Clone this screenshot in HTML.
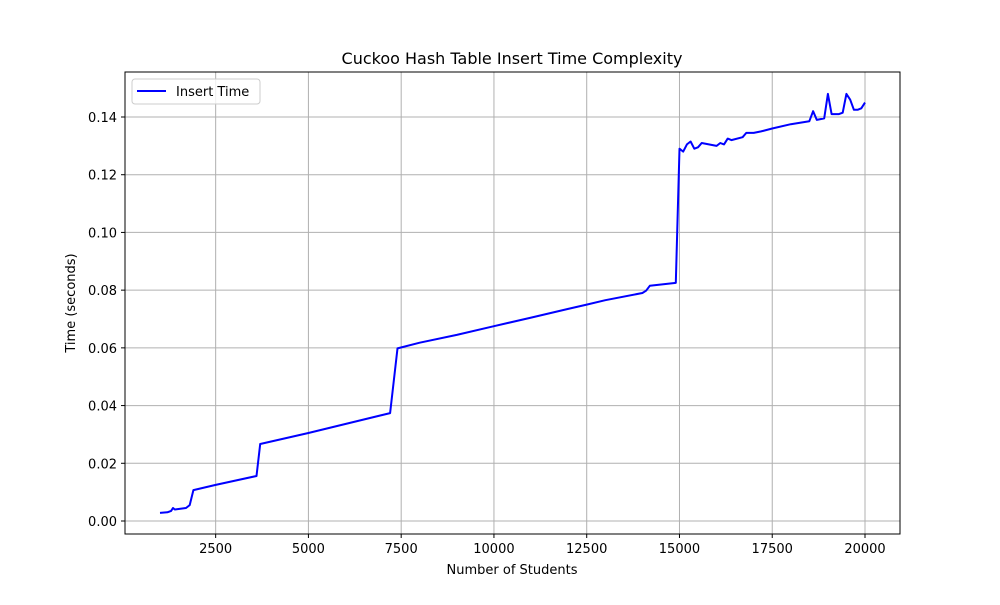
<!DOCTYPE html>
<html><head><meta charset="utf-8"><style>
body{margin:0;background:#fff;font-family:"Liberation Sans","DejaVu Sans",sans-serif;}
svg text{font-family:"DejaVu Sans","Liberation Sans",sans-serif;}
</style></head><body>
<svg id="chart" width="1000" height="600" xmlns="http://www.w3.org/2000/svg">
<rect width="1000" height="600" fill="#fff"/>
<g id="grid"></g><g id="ticks"></g><g id="series"></g>
<rect x="125" y="72" width="775" height="462" fill="none" stroke="#000" stroke-width="1"/>
<text x="512" y="64" font-size="16" text-anchor="middle">Cuckoo Hash Table Insert Time Complexity</text>
<text x="512" y="574" font-size="13" text-anchor="middle">Number of Students</text>
<text transform="translate(75,303) rotate(-90)" font-size="13" text-anchor="middle">Time (seconds)</text>
<g>
<rect x="132" y="79" width="128" height="25" rx="3" fill="#fff" fill-opacity="0.8" stroke="#ccc"/>
<line x1="137" y1="91" x2="166" y2="91" stroke="#0000ff" stroke-width="2"/>
<text x="176" y="96" font-size="13">Insert Time</text>
</g>
</svg>
<script>
const xs=[1000,1200,1300,1350,1400,1700,1800,1900,2500,3600,3700,5000,7200,7400,8000,9000,10000,11000,12000,12500,13000,14000,14100,14200,14900,15000,15100,15200,15300,15400,15500,15600,16000,16100,16200,16300,16400,16700,16800,17000,17200,17500,18000,18500,18600,18700,18900,19000,19100,19300,19400,19500,19600,19700,19800,19900,20000];
const ys=[0.0028,0.003,0.0035,0.0045,0.004,0.0045,0.0055,0.0107,0.0125,0.0156,0.0267,0.0305,0.0374,0.0598,0.0618,0.0645,0.0675,0.0705,0.0735,0.075,0.0765,0.079,0.0798,0.0815,0.0825,0.129,0.128,0.1305,0.1315,0.129,0.1295,0.131,0.130,0.131,0.1305,0.1325,0.132,0.133,0.1345,0.1345,0.135,0.136,0.1375,0.1385,0.142,0.139,0.1395,0.148,0.141,0.141,0.1415,0.148,0.146,0.1425,0.1425,0.143,0.145];
const xTicks=[2500,5000,7500,10000,12500,15000,17500,20000];
const yTicks=[0,0.02,0.04,0.06,0.08,0.10,0.12,0.14];
const yLabels=["0.00","0.02","0.04","0.06","0.08","0.10","0.12","0.14"];
const NS="http://www.w3.org/2000/svg";
function sx(v){return 160+(v-1000)*(865-160)/19000;}
function sy(v){return 521-v*(521-117)/0.14;}
function mk(t,a,p){const e=document.createElementNS(NS,t);for(const k in a)e.setAttribute(k,a[k]);p.appendChild(e);return e;}
const grid=document.getElementById('grid'),ticks=document.getElementById('ticks'),ser=document.getElementById('series');
xTicks.forEach(v=>{const x=sx(v);
const g=mk('line',{x1:x,x2:x,y1:72,y2:534,stroke:'#b0b0b0','stroke-width':1},grid);


mk('line',{x1:x,x2:x,y1:534,y2:538,stroke:'#000'},ticks);
const t=mk('text',{x:x,y:553,'font-size':13,'text-anchor':'middle'},ticks);t.textContent=v;

});
yTicks.forEach((v,i)=>{const y=sy(v);
const g=mk('line',{x1:125,x2:900,y1:y,y2:y,stroke:'#b0b0b0','stroke-width':1},grid);


mk('line',{x1:121,x2:125,y1:y,y2:y,stroke:'#000'},ticks);
const t=mk('text',{x:117,y:y+5,'font-size':13,'text-anchor':'end'},ticks);t.textContent=yLabels[i];

});
const pts=xs.map((x,i)=>sx(x).toFixed(1)+','+sy(ys[i]).toFixed(1)).join(' ');
const pl=mk('polyline',{points:pts,fill:'none',stroke:'#0000ff','stroke-width':2,'stroke-linejoin':'round'},ser);


</script>
</body></html>
